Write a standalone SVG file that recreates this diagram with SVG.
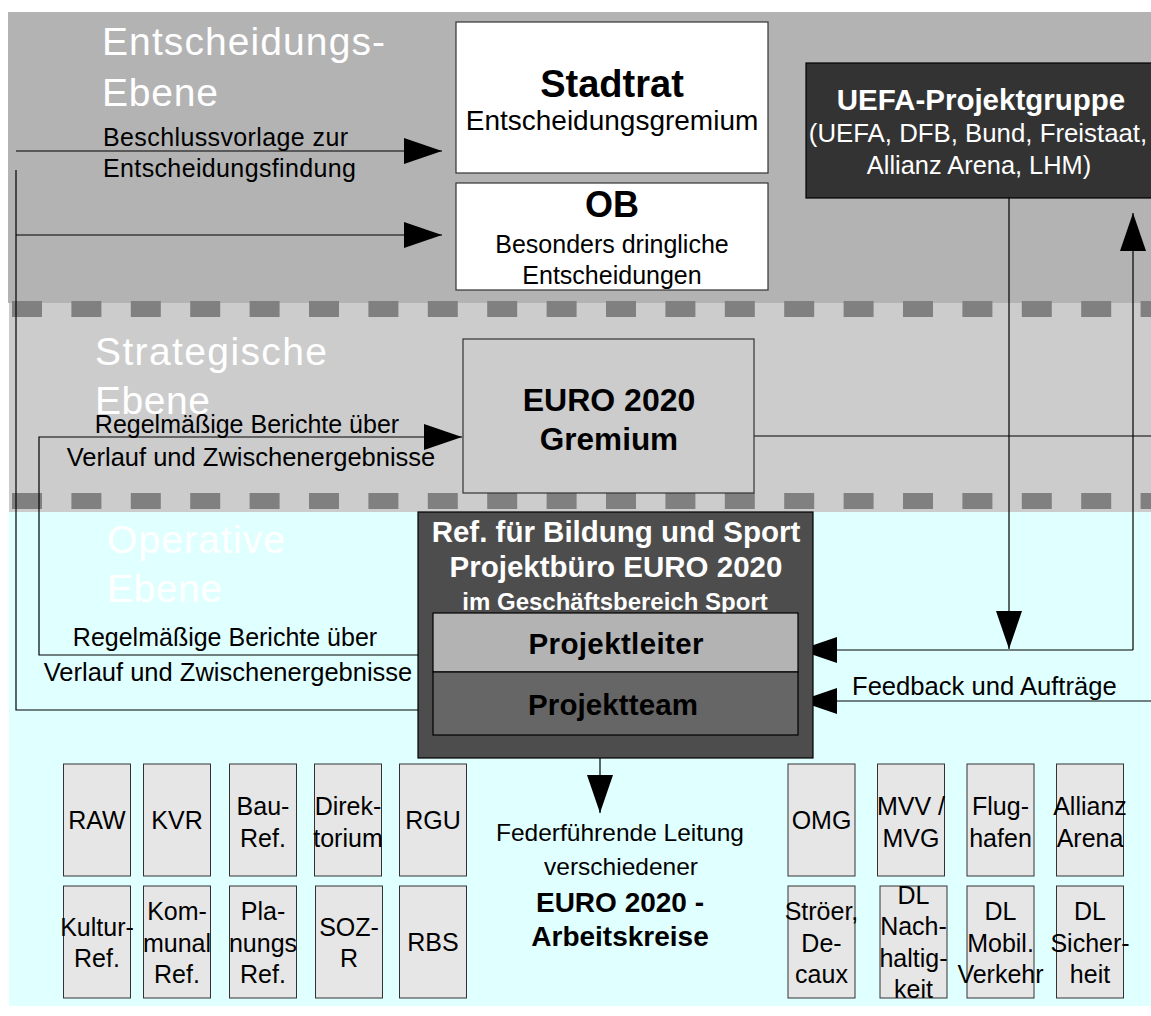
<svg xmlns="http://www.w3.org/2000/svg" width="1151" height="1016" viewBox="0 0 1151 1016">
<style>
text{font-family:"Liberation Sans",Arial,sans-serif}
.lvl{fill:#ffffff;font-size:39px}
.lbl{fill:#000;font-size:25px}
.sm{fill:#000;font-size:25px;text-anchor:middle}
.box{fill:#e6e6e6;stroke:#333;stroke-width:1}
.ln{fill:none;stroke:#000;stroke-width:1.2}
.b{font-weight:bold}
.c{text-anchor:middle}
</style>
<defs>
<marker id="ah" markerUnits="userSpaceOnUse" markerWidth="38" markerHeight="26" refX="38" refY="13" orient="auto" viewBox="0 0 38 26">
<path d="M0,0 L38,13 L0,26 z" fill="#000"/>
</marker>
</defs>
<g id="background">
<rect x="8" y="12" width="1143" height="291" fill="#b3b3b3"/>
<rect x="9" y="303" width="1142" height="209" fill="#cccccc"/>
<rect x="9" y="512" width="1142" height="494" fill="#e0ffff"/>
<line x1="12" y1="309" x2="1151" y2="309" stroke="#808080" stroke-width="16" stroke-dasharray="30 29.4"/>
<line x1="12" y1="501" x2="1151" y2="501" stroke="#808080" stroke-width="16" stroke-dasharray="30 29.4"/>
<text class="lvl" x="102" y="55" textLength="283" lengthAdjust="spacing">Entscheidungs-</text>
<text class="lvl" x="102" y="106" textLength="116" lengthAdjust="spacing">Ebene</text>
<text class="lvl" x="95" y="365" textLength="232" lengthAdjust="spacing">Strategische</text>
<text class="lvl" x="95" y="414" textLength="115" lengthAdjust="spacing">Ebene</text>
<text class="lvl" x="107" y="553" textLength="178" lengthAdjust="spacing">Operative</text>
<text class="lvl" x="107" y="602" textLength="115" lengthAdjust="spacing">Ebene</text>
</g>
<g id="connectors">
<path class="ln" d="M16,151 H442" marker-end="url(#ah)"/>
<path class="ln" d="M418,710 H16 V170"/>
<path class="ln" d="M16,235 H442" marker-end="url(#ah)"/>
<path class="ln" d="M418,655 H39 V437 H462" marker-end="url(#ah)"/>
<path class="ln" d="M754,436 H1151"/>
<path class="ln" d="M1009,198 V649" marker-end="url(#ah)"/>
<path class="ln" d="M1133,650 V213" marker-end="url(#ah)"/>
<path class="ln" d="M1133,650 H799" marker-end="url(#ah)"/>
<path class="ln" d="M1151,701 H799" marker-end="url(#ah)"/>
<path class="ln" d="M600,758 V813" marker-end="url(#ah)"/>
<text class="lbl" x="103" y="145.5" textLength="245" lengthAdjust="spacing">Beschlussvorlage zur</text>
<text class="lbl" x="103" y="177" textLength="253" lengthAdjust="spacing">Entscheidungsfindung</text>
<text class="lbl c" x="247" y="433">Regelmäßige Berichte über</text>
<text class="lbl c" x="251" y="466" style="font-size:25.5px">Verlauf und Zwischenergebnisse</text>
<text class="lbl c" x="225" y="646">Regelmäßige Berichte über</text>
<text class="lbl c" x="228" y="681" style="font-size:25.5px">Verlauf und Zwischenergebnisse</text>
<text class="lbl" x="852" y="695" style="font-size:25.6px">Feedback und Aufträge</text>
<text class="lbl c" x="620" y="841" style="font-size:24.5px">Federführende Leitung</text>
<text class="lbl c" x="621" y="875" style="font-size:24.5px">verschiedener</text>
<text class="lbl c b" x="620" y="912" style="font-size:28px">EURO 2020 -</text>
<text class="lbl c b" x="620" y="946" style="font-size:28px">Arbeitskreise</text>
</g>
<g id="stadtrat">
<rect x="456" y="22" width="312" height="151" fill="#fff" stroke="#333" stroke-width="1.2"/>
<text class="c b" x="612" y="97" style="font-size:38px">Stadtrat</text>
<text class="c" x="612" y="130" style="font-size:28px">Entscheidungsgremium</text>
</g>
<g id="ob">
<rect x="456" y="183" width="312" height="107" fill="#fff" stroke="#333" stroke-width="1.2"/>
<text class="c b" x="612" y="217" style="font-size:36px">OB</text>
<text class="c" x="612" y="253" style="font-size:25px">Besonders dringliche</text>
<text class="c" x="612" y="284" style="font-size:25px">Entscheidungen</text>
</g>
<g id="uefa">
<rect x="806" y="63" width="350" height="135" fill="#333333" stroke="#000" stroke-width="1.2"/>
<text class="c b" x="981" y="109.5" fill="#fff" style="font-size:29.5px">UEFA-Projektgruppe</text>
<text class="c" x="978" y="141.5" fill="#fff" style="font-size:25.8px">(UEFA, DFB, Bund, Freistaat,</text>
<text class="c" x="979" y="174" fill="#fff" style="font-size:25.4px">Allianz Arena, LHM)</text>
</g>
<g id="gremium">
<rect x="463" y="339" width="291" height="154" fill="#cccccc" stroke="#333" stroke-width="1.2"/>
<text class="c b" x="609" y="411" style="font-size:32px">EURO 2020</text>
<text class="c b" x="609" y="450" style="font-size:31.5px">Gremium</text>
</g>
<g id="projektbuero">
<rect x="418" y="512" width="395" height="246" fill="#4d4d4d" stroke="#000" stroke-width="1.2"/>
<text class="c b" x="616" y="542" fill="#fff" style="font-size:29.5px">Ref. für Bildung und Sport</text>
<text class="c b" x="616" y="577" fill="#fff" style="font-size:29.5px">Projektbüro EURO 2020</text>
<text class="c b" x="615" y="609.5" fill="#fff" style="font-size:24px">im Geschäftsbereich Sport</text>
</g>
<g id="projektleiter">
<rect x="433" y="613" width="365" height="59" fill="#b3b3b3" stroke="#000" stroke-width="1.2"/>
<text class="c b" x="616" y="653.5" style="font-size:29.5px" textLength="175" lengthAdjust="spacing">Projektleiter</text>
</g>
<g id="projektteam">
<rect x="433" y="672" width="365" height="63" fill="#666666" stroke="#000" stroke-width="1.2"/>
<text class="c b" x="613" y="715" style="font-size:29.5px" textLength="170" lengthAdjust="spacing">Projektteam</text>
</g>
<g id="raw"><rect class="box" x="63.5" y="764" width="67" height="112"/><text class="sm" x="97" y="829">RAW</text></g>
<g id="kvr"><rect class="box" x="143.5" y="764" width="67" height="112"/><text class="sm" x="177" y="829">KVR</text></g>
<g id="bau"><rect class="box" x="229.5" y="764" width="67" height="112"/><text class="sm" x="263" y="815">Bau-</text><text class="sm" x="263" y="846.5">Ref.</text></g>
<g id="direktorium"><rect class="box" x="314.5" y="764" width="67" height="112"/><text class="sm" x="348" y="815">Direk-</text><text class="sm" x="348" y="846.5">torium</text></g>
<g id="rgu"><rect class="box" x="399.5" y="764" width="67" height="112"/><text class="sm" x="433" y="829">RGU</text></g>
<g id="kultur"><rect class="box" x="63.5" y="886" width="67" height="112"/><text class="sm" x="97" y="935.5">Kultur-</text><text class="sm" x="97" y="967">Ref.</text></g>
<g id="kommunal"><rect class="box" x="143.5" y="886" width="67" height="112"/><text class="sm" x="177" y="920">Kom-</text><text class="sm" x="177" y="951.5">munal</text><text class="sm" x="177" y="983">Ref.</text></g>
<g id="planung"><rect class="box" x="229.5" y="886" width="67" height="112"/><text class="sm" x="263" y="920">Pla-</text><text class="sm" x="263" y="951.5">nungs</text><text class="sm" x="263" y="983">Ref.</text></g>
<g id="soz"><rect class="box" x="315.5" y="886" width="67" height="112"/><text class="sm" x="349" y="935.5">SOZ-</text><text class="sm" x="349" y="967">R</text></g>
<g id="rbs"><rect class="box" x="399.5" y="886" width="67" height="112"/><text class="sm" x="433" y="951">RBS</text></g>
<g id="omg"><rect class="box" x="788" y="764" width="67" height="112"/><text class="sm" x="821.5" y="829">OMG</text></g>
<g id="mvv"><rect class="box" x="877.5" y="764" width="67" height="112"/><text class="sm" x="911" y="815">MVV /</text><text class="sm" x="911" y="846.5">MVG</text></g>
<g id="flughafen"><rect class="box" x="967" y="764" width="67" height="112"/><text class="sm" x="1000.5" y="815">Flug-</text><text class="sm" x="1000.5" y="846.5">hafen</text></g>
<g id="allianz"><rect class="box" x="1056.5" y="764" width="67" height="112"/><text class="sm" x="1090" y="815">Allianz</text><text class="sm" x="1090" y="846.5">Arena</text></g>
<g id="stroeer"><rect class="box" x="788" y="886" width="67" height="112"/><text class="sm" x="821.5" y="920">Ströer,</text><text class="sm" x="821.5" y="951.5">De-</text><text class="sm" x="821.5" y="983">caux</text></g>
<g id="nachhaltigkeit"><rect class="box" x="880" y="886" width="67" height="112"/><text class="sm" x="913.5" y="903.5">DL</text><text class="sm" x="913.5" y="935">Nach-</text><text class="sm" x="913.5" y="966.5">haltig-</text><text class="sm" x="913.5" y="998">keit</text></g>
<g id="mobil"><rect class="box" x="967" y="886" width="67" height="112"/><text class="sm" x="1000.5" y="920">DL</text><text class="sm" x="1000.5" y="951.5">Mobil.</text><text class="sm" x="1000.5" y="983">Verkehr</text></g>
<g id="sicherheit"><rect class="box" x="1056.5" y="886" width="67" height="112"/><text class="sm" x="1090" y="920">DL</text><text class="sm" x="1090" y="951.5">Sicher-</text><text class="sm" x="1090" y="983">heit</text></g>
</svg>
